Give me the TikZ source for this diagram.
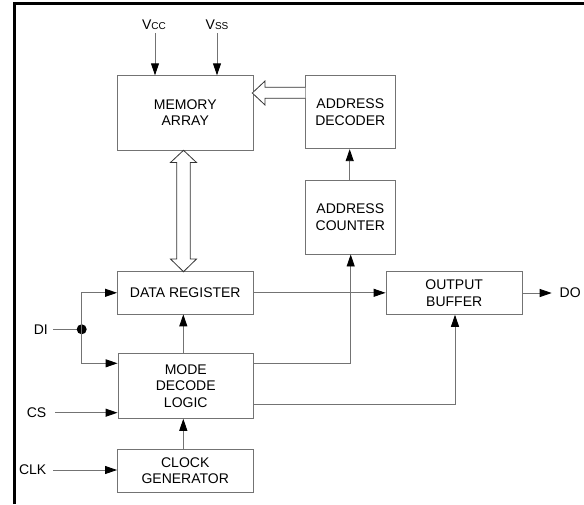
\documentclass[tikz,border=0pt]{standalone}
\usepackage{fontspec}
\setmainfont{Liberation Sans}
\usetikzlibrary{arrows.meta,calc}
\begin{document}
\begin{tikzpicture}[x=1pt,y=-1pt,
  line/.style={draw=black!55,line width=0.9pt},
  arr/.style={line,-{Triangle[length=12pt,width=8pt,color=black]}},
  blk/.style={draw=black!55,line width=0.9pt,minimum width=135.5pt,inner sep=0pt,align=center,font=\fontsize{14}{16.5}\selectfont},
  lbl/.style={inner sep=0pt,font=\fontsize{14}{16}\selectfont},
  hollow/.style={draw=black!80,line width=0.8pt,fill=white}]
\useasboundingbox (0,0) rectangle (584,504);
\draw[line width=3pt] (14,504) -- (14,3) -- (584,3);
% blocks
\node[blk,minimum height=75pt] (mem) at (185.25,112.8) {MEMORY\\ARRAY};
\node[blk,minimum width=90pt,minimum height=73.4pt] (dec) at (350.3,112) {ADDRESS\\DECODER};
\node[blk,minimum width=90pt,minimum height=74pt] (cnt) at (350.3,217) {ADDRESS\\COUNTER};
\node[blk,minimum height=42.3pt] (dr) at (185.25,292.8) {DATA REGISTER};
\node[blk,minimum height=64.6pt] (mdl) at (185.75,386) {MODE\\DECODE\\LOGIC};
\node[blk,minimum height=43pt] (clk) at (185.25,470.8) {CLOCK\\GENERATOR};
\node[blk,minimum width=136.3pt,minimum height=42.6pt] (ob) at (454.2,293) {OUTPUT\\BUFFER};
% labels
\node[lbl] (vcc) at (154,25) {V{\fontsize{10}{12}\selectfont CC}};
\node[lbl] (vss) at (217,25) {V{\fontsize{10}{12}\selectfont SS}};
\node[lbl,anchor=east] (di) at (48,329.3) {DI};
\node[lbl,anchor=east] (cs) at (46.5,412.7) {CS};
\node[lbl,anchor=east] (clkin) at (46.5,470) {CLK};
\node[lbl,anchor=west] (do) at (559.5,293) {DO};
% power arrows
\draw[arr] (155,33) -- (155,75.3);
\draw[arr] (217,33) -- (217,75.3);
% hollow arrows
\draw[hollow] (305.3,87.3) -- (265,87.3) -- (265,81) -- (252.3,93) -- (265,105) -- (265,98.3) -- (305.3,98.3);
\draw[hollow] (176.8,162.5) -- (170.5,162.5) -- (183.5,150.3) -- (196.5,162.5) -- (190.2,162.5)
  -- (190.2,259) -- (196.5,259) -- (183.5,271.7) -- (170.5,259) -- (176.8,259) -- cycle;
% DI
\coordinate (dot) at (81.7,329.3);
\draw[line] (di.east) ++(5,0) -- (dot);
\fill (dot) circle (5pt);
\draw[arr] (dot) |- (dr.west);
\draw[arr] (dot) |- (mdl.west |- 0,363.3);
\draw[arr] (cs.east) ++(8.5,0) -- (mdl.west |- cs.east);
\draw[arr] (clkin.east) ++(6.5,0) -- (clk.west |- clkin.east);
% vertical control arrows
\draw[arr] (clk.north -| 183.3,0) -- (mdl.south -| 183.3,0);
\draw[arr] (mdl.north -| 183.3,0) -- (dr.south -| 183.3,0);
\draw[arr] (cnt.north -| 349.7,0) -- (dec.south -| 349.7,0);
% data path
\draw[arr] (dr.east) -- (ob.west |- dr.east);
\draw[arr] (mdl.east |- 0,363.3) -| (cnt.south -| 350.7,0);
\draw[arr] (mdl.east |- 0,404) -| (ob.south -| 455,0);
\draw[arr] (ob.east) -- (551.7,293);
\end{tikzpicture}
\end{document}
